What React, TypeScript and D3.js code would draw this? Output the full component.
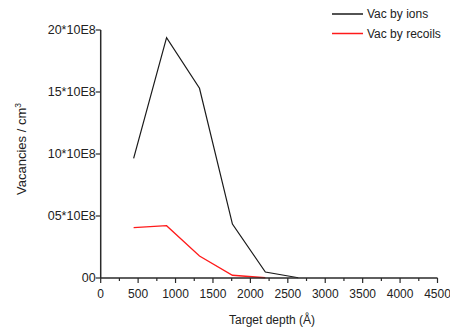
import React from "react";
import * as d3 from "d3";

const depths = [440, 880, 1320, 1760, 2200, 2640];
const vacIons = [9.65, 19.38, 15.3, 4.35, 0.48, 0.02];
const recoilDepths = [440, 880, 1320, 1760, 2200];
const vacRecoils = [4.06, 4.22, 1.77, 0.22, 0.02];
const yTicks = [0, 5, 10, 15, 20];
const yTickLabels = ["00", "05*10E8", "10*10E8", "15*10E8", "20*10E8"];
const xTicks = [0, 500, 1000, 1500, 2000, 2500, 3000, 3500, 4000, 4500];
const xMinorTicks = [250, 750, 1250, 1750, 2250, 2750, 3250, 3750, 4250];
const seriesNames = ["Vac by ions", "Vac by recoils"];
const seriesColors = ["#1a1a1a", "#ff1a1a"];

export default function App() {
  const W = 450, H = 333;
  const x = d3.scaleLinear().domain([0, 4500]).range([100.7, 437.5]);
  const y = d3.scaleLinear().domain([0, 20]).range([278, 30]);
  const font = "'Liberation Sans', Arial, sans-serif";
  const axisColor = "#2a2a2a";
  const line = d3.line<[number, number]>().x(d => x(d[0])).y(d => y(d[1]));
  const ionsPath = line(depths.map((d, i) => [d, vacIons[i]] as [number, number])) || "";
  const recPath = line(recoilDepths.map((d, i) => [d, vacRecoils[i]] as [number, number])) || "";
  return (
    <svg width={W} height={H} style={{ position: "absolute", left: 0, top: 0, background: "#fff" }}>
      <path d={ionsPath} fill="none" stroke={seriesColors[0]} strokeWidth={1.2} />
      <path d={recPath} fill="none" stroke={seriesColors[1]} strokeWidth={1.3} />
      {/* y axis */}
      <line x1={x(0)} x2={x(0)} y1={y(20)} y2={y(0)} stroke={axisColor} strokeWidth={1.5} />
      {yTicks.map((t, i) => (
        <g key={"y" + t}>
          <line x1={x(0) - 5} x2={x(0)} y1={y(t)} y2={y(t)} stroke={axisColor} strokeWidth={1.2} />
          <text x={x(0) - 5} y={y(t)} dy="0.35em" textAnchor="end" fontFamily={font} fontSize={12.5} fill="#222">
            {yTickLabels[i]}
          </text>
        </g>
      ))}
      {/* x axis */}
      <line x1={x(0)} x2={x(4500)} y1={y(0)} y2={y(0)} stroke={axisColor} strokeWidth={1.5} />
      {xTicks.map(t => (
        <g key={"x" + t}>
          <line x1={x(t)} x2={x(t)} y1={y(0)} y2={y(0) + 5} stroke={axisColor} strokeWidth={1.2} />
          <text x={x(t)} y={y(0) + 20} textAnchor="middle" fontFamily={font} fontSize={12} fill="#222">
            {t}
          </text>
        </g>
      ))}
      {xMinorTicks.map(t => (
        <line key={"m" + t} x1={x(t)} x2={x(t)} y1={y(0)} y2={y(0) + 3} stroke={axisColor} strokeWidth={1.2} />
      ))}
      <text x={272} y={324} textAnchor="middle" fontFamily={font} fontSize={12} fill="#222">
        Target depth (Å)
      </text>
      <text transform={`translate(26,149) rotate(-90)`} textAnchor="middle" fontFamily={font} fontSize={13} fill="#222">
        Vacancies / cm<tspan dy={-5} fontSize={8.5}>3</tspan>
      </text>
      {/* legend */}
      {seriesNames.map((n, i) => (
        <g key={n}>
          <line x1={332} x2={363} y1={14 + i * 19.5} y2={14 + i * 19.5} stroke={seriesColors[i]} strokeWidth={1.5} />
          <text x={367} y={14 + i * 19.5} dy="0.35em" fontFamily={font} fontSize={12} fill="#222">
            {n}
          </text>
        </g>
      ))}
    </svg>
  );
}
